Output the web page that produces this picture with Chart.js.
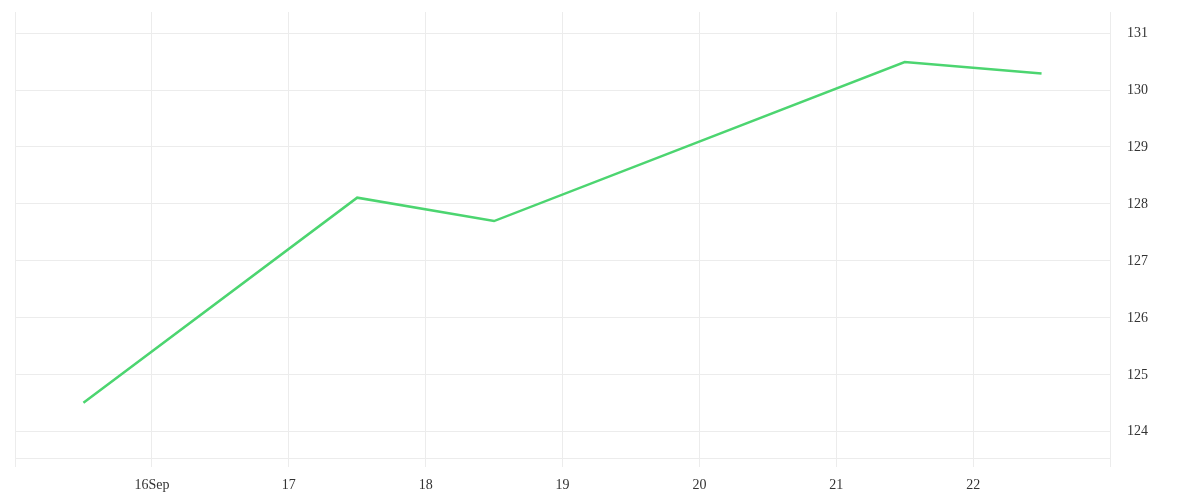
<!DOCTYPE html>
<html>
<head>
<meta charset="utf-8">
<script src="https://cdn.jsdelivr.net/npm/chart.js@4/dist/chart.umd.min.js"></script>
<style>
    html, body { margin: 0; padding: 0; background: #fff; }
    #wrap { width: 1200px; height: 500px; }
</style>
</head>
<body>
<div id="wrap"><canvas id="chart" width="1200" height="500"></canvas></div>
<script>
// 날짜(9월, 소수 = 정오) / 가격
const days = [15.5, 17.5, 18.5, 21.5, 22.5];
const prices = [124.51, 128.11, 127.70, 130.49, 130.29];
const monthLabel = "Sep";

const GRID = "#ececec";
const FONT = { family: "'Liberation Serif', serif", size: 14 };

const points = days.map((d, i) => ({ x: d, y: prices[i] }));

new Chart(document.getElementById("chart"), {
    type: "line",
    data: {
        datasets: [{
            data: points,
            borderColor: "#4cd570",
            borderWidth: 2.5,
            pointRadius: 0,
            tension: 0,
            fill: false,
        }]
    },
    options: {
        animation: false,
        responsive: false,
        layout: { padding: { left: 15, top: 12, right: 0, bottom: 0 } },
        plugins: {
            legend: { display: false },
            tooltip: { enabled: false }
        },
        scales: {
            x: {
                type: "linear",
                min: 15,
                max: 23,
                ticks: {
                    stepSize: 1,
                    padding: 10,
                    color: "#333",
                    font: FONT,
                    maxRotation: 0,
                    callback: (v) => {
                        if (v <= 15 || v >= 23) return "";
                        return v === 16 ? v + monthLabel : String(v);
                    }
                },
                grid: { color: GRID, tickLength: 9, tickColor: GRID },
                border: { color: GRID },
                afterFit: (scale) => {
                    scale.height = 42;
                    scale.paddingLeft = 0;
                    scale.paddingRight = 0;
                }
            },
            y: {
                position: "right",
                min: 123.54,
                max: 131.37,
                ticks: { padding: 17, color: "#333", font: FONT },
                grid: { color: GRID, drawTicks: false },
                border: { color: GRID },
                afterBuildTicks: (scale) => {
                    scale.ticks = scale.ticks.filter(t => Number.isInteger(t.value));
                },
                afterFit: (scale) => {
                    scale.width = 90;
                    scale.paddingTop = 0;
                    scale.paddingBottom = 0;
                }
            }
        }
    }
});
</script>
</body>
</html>
